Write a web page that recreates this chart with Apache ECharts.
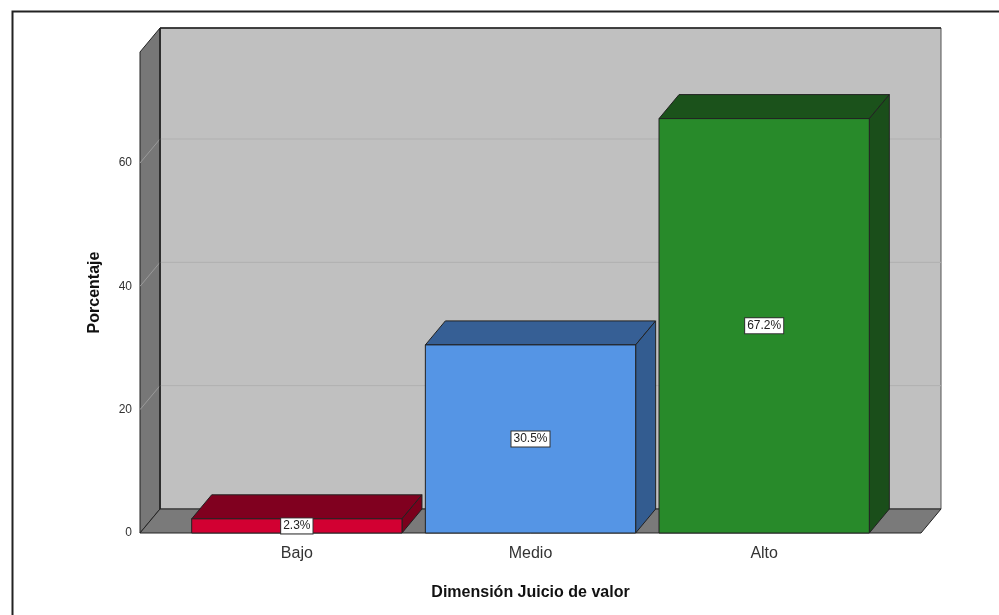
<!DOCTYPE html>
<html>
<head>
<meta charset="utf-8">
<script src="https://cdn.jsdelivr.net/npm/echarts@6/dist/echarts.min.js"></script>
<style>
  html, body { margin: 0; padding: 0; background: #fff; }
  #container { width: 999px; height: 615px; }
</style>
</head>
<body>
<div id="container"></div>
<script>
// data
var categories = ['Bajo', 'Medio', 'Alto'];
var percentages = [2.3, 30.5, 67.2];
var barLabels = ['2.3%', '30.5%', '67.2%'];
var yTicks = [0, 20, 40, 60];

// 3D look
var DX = 20, DY = -24, PAD = 40;
var frontColors = ['#d20032', '#5595e5', '#288a2a'];
var topColors = ['#80001f', '#365f95', '#1b521b'];
var sideColors = ['#7a001c', '#335c90', '#1a4e1a'];
var edge = '#222';

var myChart = echarts.init(document.getElementById('container'), null, { renderer: 'canvas' });

function renderWalls(params, api) {
  var cs = params.coordSys;
  var L = cs.x - PAD, R = cs.x + cs.width + PAD;
  var T = cs.y, B = cs.y + cs.height;
  var kids = [];
  // back wall
  kids.push({ type: 'rect', shape: { x: L + DX, y: T + DY, width: R - L, height: B - T },
    style: { fill: '#c0c0c0', stroke: '#555', lineWidth: 1 } });
  // left side wall
  kids.push({ type: 'polygon', shape: { points: [[L, B], [L, T], [L + DX, T + DY], [L + DX, B + DY]] },
    style: { fill: '#777', stroke: edge, lineWidth: 1 } });
  // floor
  kids.push({ type: 'polygon', shape: { points: [[L, B], [L + DX, B + DY], [R + DX, B + DY], [R, B]] },
    style: { fill: '#7a7a7a', stroke: edge, lineWidth: 1 } });
  // grid lines
  yTicks.forEach(function (t) {
    if (t === 0) return;
    var y = api.coord([0, t])[1];
    kids.push({ type: 'line', shape: { x1: L + DX, y1: y + DY, x2: R + DX, y2: y + DY },
      style: { stroke: '#b0b0b0', lineWidth: 1 } });
    kids.push({ type: 'line', shape: { x1: L, y1: y, x2: L + DX, y2: y + DY },
      style: { stroke: '#9a9a9a', lineWidth: 1 } });
  });
  // darker top and left edges of the back wall
  kids.push({ type: 'line', shape: { x1: L + DX, y1: T + DY, x2: R + DX, y2: T + DY },
    style: { stroke: edge, lineWidth: 1.5 } });
  kids.push({ type: 'line', shape: { x1: L + DX, y1: T + DY, x2: L + DX, y2: B + DY },
    style: { stroke: edge, lineWidth: 1.5 } });
  return { type: 'group', children: kids };
}

function renderBar(params, api) {
  var i = api.value(0), v = api.value(1);
  var p0 = api.coord([i, 0]);
  var p1 = api.coord([i, v]);
  var bw = api.size([1, 0])[0] * 0.9;
  var x0 = p0[0] - bw / 2, x1 = p0[0] + bw / 2;
  var yt = p1[1], yb = p0[1];
  return {
    type: 'group',
    children: [
      { type: 'polygon', shape: { points: [[x0, yt], [x0 + DX, yt + DY], [x1 + DX, yt + DY], [x1, yt]] },
        style: { fill: topColors[i], stroke: edge, lineWidth: 1 } },
      { type: 'polygon', shape: { points: [[x1, yt], [x1 + DX, yt + DY], [x1 + DX, yb + DY], [x1, yb]] },
        style: { fill: sideColors[i], stroke: edge, lineWidth: 1 } },
      { type: 'rect', shape: { x: x0, y: yt, width: bw, height: yb - yt },
        style: { fill: frontColors[i], stroke: edge, lineWidth: 1 } },
      { type: 'text', x: p0[0], y: (yt + yb) / 2,
        style: { text: barLabels[i], fill: '#222', font: '12px "Liberation Sans", Arial, sans-serif',
          align: 'center', verticalAlign: 'middle', backgroundColor: '#fff',
          borderColor: '#333', borderWidth: 1, padding: [2, 2, 1, 2] } }
    ]
  };
}

var option = {
  animation: false,
  textStyle: { fontFamily: '"Liberation Sans", Arial, sans-serif' },
  graphic: [{
    type: 'rect', left: 10, top: 9, shape: { width: 1200, height: 800 },
    style: { fill: 'none', stroke: '#222', lineWidth: 2 }, silent: true
  }],
  grid: { left: 180, right: 118, top: 52, bottom: 82 },
  xAxis: {
    type: 'category',
    data: categories,
    axisLine: { show: false },
    axisTick: { show: false },
    axisLabel: { fontSize: 16, color: '#333', margin: 13 },
    name: 'Dimensión Juicio de valor',
    nameLocation: 'middle',
    nameGap: 52,
    nameTextStyle: { fontSize: 16, fontWeight: 'bold', color: '#111' }
  },
  yAxis: {
    type: 'value',
    min: 0, max: 78, interval: 20,
    offset: 40,
    axisLine: { show: false },
    axisTick: { show: false },
    splitLine: { show: false },
    axisLabel: { fontSize: 12, color: '#333', margin: 8, showMaxLabel: false },
    name: 'Porcentaje',
    nameLocation: 'middle',
    nameGap: 37,
    nameTextStyle: { fontSize: 16, fontWeight: 'bold', color: '#111' }
  },
  series: [
    { type: 'custom', renderItem: renderWalls, data: [[0, 0]], z: 1, silent: true },
    { type: 'custom', renderItem: renderBar, data: percentages.map(function (v, i) { return [i, v]; }), z: 2 }
  ]
};

myChart.setOption(option);
window.addEventListener('resize', myChart.resize);
</script>
</body>
</html>
